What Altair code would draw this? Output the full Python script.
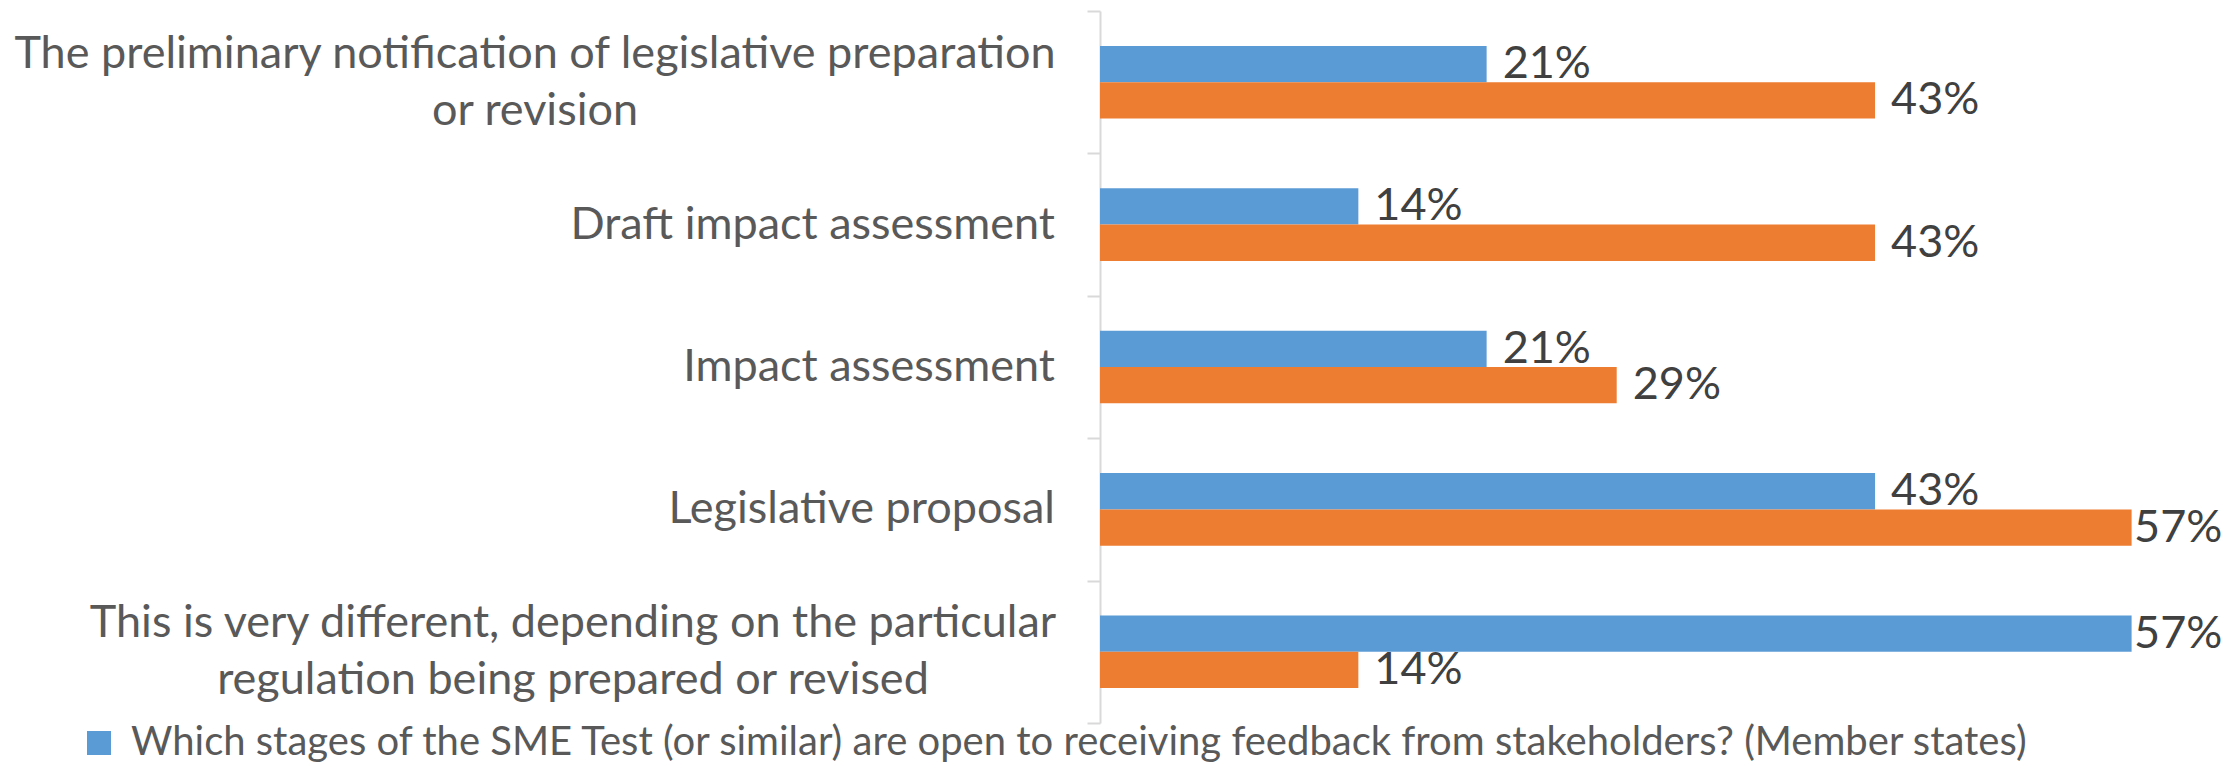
import altair as alt
import pandas as pd

categories = [
    "The preliminary notification of legislative preparation\nor revision",
    "Draft impact assessment",
    "Impact assessment",
    "Legislative proposal",
    "This is very different, depending on the particular\nregulation being prepared or revised",
]
series_names = [
    "Which stages of the SME Test (or similar) are open to receiving feedback from stakeholders? (Member states)",
    "Which stages of the SME Test (or similar) are open to receiving feedback from stakeholders? (Stakeholders)",
]
member_states = [0.214, 0.143, 0.214, 0.429, 0.571]
stakeholders = [0.429, 0.429, 0.286, 0.571, 0.143]
colors = ["#5B9BD5", "#ED7D31"]

rows = []
for c, a, b in zip(categories, member_states, stakeholders):
    rows.append({"category": c, "series": series_names[0], "value": a})
    rows.append({"category": c, "series": series_names[1], "value": b})
df = pd.DataFrame(rows)
cat_df = pd.DataFrame({"category": categories})

FONT = "Lato"
FS = 45
LH = 57

y_axis = alt.Axis(
    title=None,
    labels=False,
    tickBand="extent",
    domainColor="#D9D9D9",
    domainWidth=2,
    tickColor="#D9D9D9",
    tickWidth=2,
    tickSize=13,
)

y_enc = alt.Y(
    "category:N",
    sort=categories,
    scale=alt.Scale(paddingInner=0, paddingOuter=0),
    axis=y_axis,
)
y_off = alt.YOffset(
    "series:N",
    sort=series_names,
    scale=alt.Scale(paddingInner=0, paddingOuter=0.961),
)
x_scale = alt.Scale(domain=[0, 0.6])

bars = alt.Chart(df).mark_bar().encode(
    x=alt.X("value:Q", scale=x_scale, axis=None),
    y=y_enc,
    yOffset=y_off,
    color=alt.Color(
        "series:N",
        scale=alt.Scale(domain=series_names, range=colors),
        legend=alt.Legend(
            values=[series_names[0]],
            orient="none",
            legendX=-1021,
            legendY=712,
            title=None,
            symbolType="square",
            symbolSize=576,
            symbolStrokeWidth=0,
            labelFont=FONT,
            labelFontSize=40,
            labelColor="#595959",
            labelLimit=0,
            labelOffset=12,
            padding=0,
        ),
    ),
)

value_labels = alt.Chart(df).transform_calculate(
    label_pos="datum.value > 0.55 ? datum.value - 0.0075 : datum.value"
).mark_text(
    align="left", baseline="middle", dx=16, font=FONT, fontSize=FS, color="#404040"
).encode(
    x=alt.X("label_pos:Q", scale=x_scale, axis=None),
    y=y_enc,
    yOffset=y_off,
    text=alt.Text("value:Q", format=".0%"),
)

# category labels: single lines right-aligned, wrapped ones centred on their longest line
half_width_expr = (
    "indexof(datum.category, 'preliminary') >= 0 ? 520 : "
    "indexof(datum.category, 'very different') >= 0 ? 482 : 0"
)
cat_labels = alt.Chart(cat_df).transform_calculate(
    lines="split(datum.category, '\\n')",
    nlines="length(split(datum.category, '\\n'))",
).mark_text(
    baseline="middle",
    font=FONT,
    fontSize=FS,
    color="#595959",
    lineHeight=LH,
    align={"expr": "datum.nlines > 1 ? 'center' : 'right'"},
    dx={"expr": "-45 - (" + half_width_expr + ")"},
    dy={"expr": "-(datum.nlines - 1) * %g" % (LH / 2)},
).encode(
    x=alt.datum(0, scale=x_scale),
    y=y_enc,
    text="lines:N",
)

chart = alt.layer(bars, value_labels, cat_labels).properties(
    width=1084,
    height=712,
    autosize=alt.AutoSizeParams(type="none"),
    padding={"left": 1092, "top": 3, "right": 44, "bottom": 41},
    background="white",
).configure_view(stroke=None)

chart.save("out.html", embed_options={"renderer": "svg", "actions": False})
